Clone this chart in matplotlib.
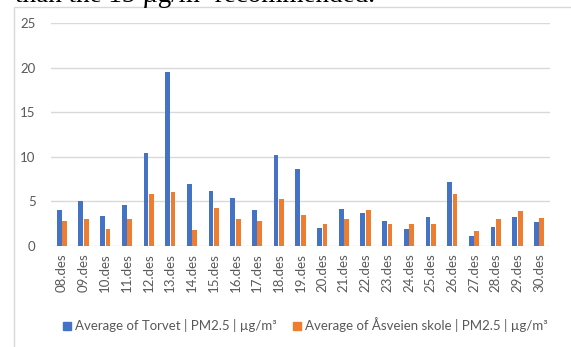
import numpy as np
import matplotlib.pyplot as plt
from matplotlib.patches import Rectangle, Patch

# daily PM2.5 averages, December
days = ["08.des", "09.des", "10.des", "11.des", "12.des", "13.des", "14.des",
        "15.des", "16.des", "17.des", "18.des", "19.des", "20.des", "21.des",
        "22.des", "23.des", "24.des", "25.des", "26.des", "27.des", "28.des",
        "29.des", "30.des"]
torvet = [4.0, 5.0, 3.35, 4.65, 10.45, 19.5, 7.0, 6.2, 5.4, 4.0, 10.2, 8.6,
          2.0, 4.2, 3.65, 2.85, 1.85, 3.2, 7.2, 1.1, 2.1, 3.3, 2.7]
asveien = [2.8, 3.0, 1.9, 3.0, 5.8, 6.0, 1.75, 4.3, 3.0, 2.8, 5.3, 3.45,
           2.5, 3.0, 4.05, 2.5, 2.5, 2.5, 5.8, 1.7, 3.05, 3.9, 3.1]
labels = ["Average of Torvet | PM2.5 | µg/m³",
          "Average of Åsveien skole | PM2.5 | µg/m³"]

BLUE = "#4472C4"
ORANGE = "#ED7D31"
GREY = "#595959"
GRID = "#D9D9D9"
FONT = ["Lato", "DejaVu Sans"]

fig = plt.figure(figsize=(5.71, 3.47), dpi=100)
ax = fig.add_axes([51 / 571, 101 / 347, 499 / 571, 223 / 347])

# chart area border (runs off the right and bottom) and the sentence above it
top = 1 - 7 / 347
fig.patches.append(Rectangle((14 / 571, -0.05), 1.0, top + 0.05,
                             transform=fig.transFigure, fill=False,
                             edgecolor=GRID, linewidth=1.0))
fig.text(15 / 571, 1 - 1.5 / 347, "than the 15 µg/m³ recommended.",
         family="Liberation Serif", fontsize=19.5, color="black",
         ha="left", va="baseline")

x = np.arange(len(days))
w = 0.22
ax.bar(x - 0.125, torvet, width=w, color=BLUE, zorder=3)
ax.bar(x + 0.125, asveien, width=w, color=ORANGE, zorder=3)

ax.set_xlim(-0.5, len(days) - 0.5)
ax.set_ylim(0, 25)
ax.set_yticks(range(0, 26, 5))
ax.grid(axis="y", color=GRID, linewidth=1.0, zorder=0)
for s in ax.spines.values():
    s.set_visible(False)
ax.tick_params(length=0)
ax.tick_params(axis="y", pad=11, labelcolor=GREY, labelsize=9.5)
ax.tick_params(axis="x", pad=5, labelcolor=GREY, labelsize=9.5)
ax.set_xticks(x)
ax.set_xticklabels(days, rotation=90)
for t in ax.get_xticklabels() + ax.get_yticklabels():
    t.set_family(FONT)

handles = [Patch(color=BLUE), Patch(color=ORANGE)]
fig.legend(handles, labels, loc="center", bbox_to_anchor=(0.535, 1 - 325 / 347),
           ncol=2, frameon=False, handlelength=0.6, handleheight=0.6,
           handletextpad=0.3, columnspacing=1.2,
           prop={"family": FONT, "size": 9.5}, labelcolor=GREY)

fig.savefig("out.png", dpi=100)
